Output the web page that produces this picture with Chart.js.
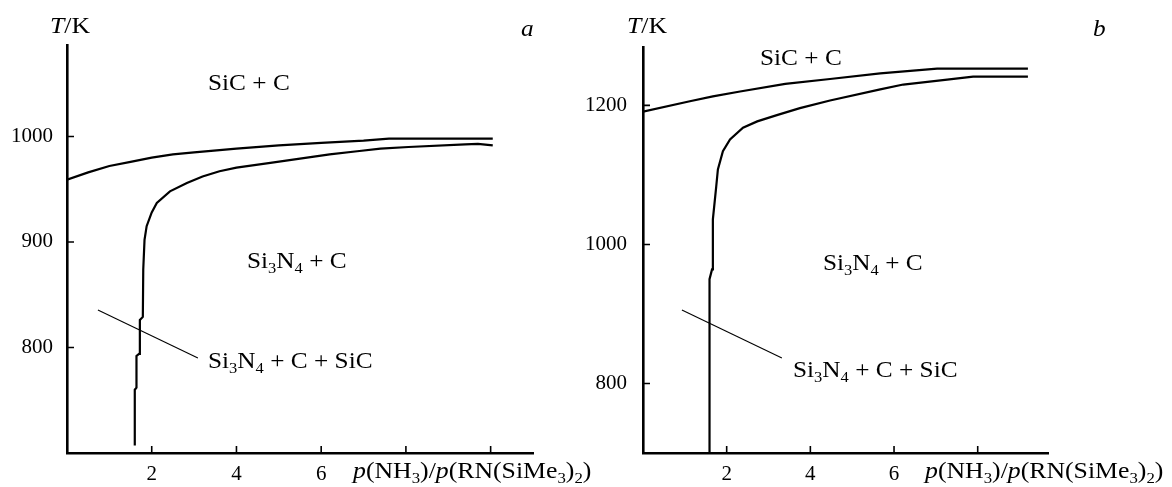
<!DOCTYPE html>
<html>
<head>
<meta charset="utf-8">
<script src="https://cdn.jsdelivr.net/npm/chart.js@4.4.1/dist/chart.umd.min.js"></script>
<style>
  html, body { margin: 0; padding: 0; background: #fff; }
  #wrap { position: relative; width: 1172px; height: 487px; }
  canvas { position: absolute; top: 0; }
  #chartA { left: 0; }
  #chartB { left: 580px; }
</style>
</head>
<body>
<div id="wrap">
  <canvas id="chartA" width="610" height="487"></canvas>
  <canvas id="chartB" width="592" height="487"></canvas>
</div>
<script>
// ---- panel a: boundary lines, x = p(NH3)/p(RN(SiMe3)2), T in K ----
const upperA_x = [0, 0.5, 1, 1.5, 2, 2.5, 3, 4, 5, 6, 7, 7.6, 10.05];
const upperA_T = [959, 966, 972, 976, 980, 983, 985, 988.5, 991.5, 994, 996, 998, 998];

const lowerA_x = [1.6, 1.6, 1.64, 1.64, 1.7, 1.72, 1.79, 1.8, 1.83, 1.88, 2.0, 2.12, 2.43, 2.83, 3.2, 3.6, 4.0, 4.8, 5.5, 6.2, 6.85, 7.4, 8.06, 9.4, 9.7, 10.05];
const lowerA_T = [707, 760, 762, 792, 794, 826, 829, 874, 902, 915, 928, 937, 948, 956, 962, 967, 970.5, 975, 979, 983, 986, 988.5, 990, 992.5, 993, 991.5];

const leaderA_x = [0.73, 3.09];
const leaderA_T = [835.5, 790];

const xTicksA = [2, 4, 6, 8, 10];
const yTicksA = [800, 900, 1000];

// ---- panel b ----
const upperB_x = [0, 1.12, 1.67, 2.32, 3.4, 4.47, 5.67, 7.03, 9.2];
const upperB_T = [1191, 1206, 1213, 1220, 1231, 1238, 1246, 1253, 1253];

const lowerB_x = [1.58, 1.58, 1.6, 1.65, 1.67, 1.75, 1.79, 1.91, 2.08, 2.39, 2.73, 3.2, 3.75, 4.47, 5.67, 6.22, 7.27, 7.89, 9.2];
const lowerB_T = [700, 906, 950, 964, 1036, 1083, 1108, 1134, 1151, 1168, 1177, 1186, 1196, 1207, 1223, 1230, 1237, 1241.5, 1241.5];

const leaderB_x = [0.93, 3.32];
const leaderB_T = [905.8, 836.7];

const xTicksB = [2, 4, 6, 8];
const yTicksB = [800, 1000, 1200];

const xLabelsShown = [2, 4, 6];

Chart.defaults.color = '#000';
Chart.defaults.font.family = '"Liberation Serif", "Times New Roman", serif';
Chart.defaults.font.size = 21;

const FONT = '"Liberation Serif", "Times New Roman", serif';

const SI3N4 = [['Si', ''], ['3', 's'], ['N', ''], ['4', 's']];
const titleRuns = [['p', 'i'], ['(NH', ''], ['3', 's'], [')/', ''], ['p', 'i'], ['(RN(SiMe', ''], ['3', 's'], [')', ''], ['2', 's'], [')', '']];

function drawRuns(ctx, x, y, runs, size, stretch) {
    ctx.save();
    ctx.translate(x, y);
    ctx.scale(stretch, 1);
    ctx.fillStyle = '#000';
    ctx.textBaseline = 'alphabetic';
    ctx.textAlign = 'left';
    let cx = 0;
    runs.forEach(([text, style]) => {
        const sub = style === 's';
        const fs = sub ? Math.round(size * 0.65) : size;
        ctx.font = (style === 'i' ? 'italic ' : '') + fs + 'px ' + FONT;
        ctx.fillText(text, cx, sub ? size * 0.22 : 0);
        cx += ctx.measureText(text).width;
    });
    ctx.restore();
}

const inwardTicks = {
    id: 'inwardTicks',
    afterDraw(chart) {
        const { ctx, chartArea, scales: { x, y } } = chart;
        ctx.save();
        ctx.strokeStyle = '#000';
        ctx.lineWidth = 1.6;
        ctx.beginPath();
        x.ticks.forEach(t => {
            const px = x.getPixelForValue(t.value);
            ctx.moveTo(px, chartArea.bottom);
            ctx.lineTo(px, chartArea.bottom - 7);
        });
        y.ticks.forEach(t => {
            const py = y.getPixelForValue(t.value);
            ctx.moveTo(chartArea.left, py);
            ctx.lineTo(chartArea.left + 7, py);
        });
        ctx.stroke();
        ctx.restore();
    }
};

const notes = {
    id: 'notes',
    afterDraw(chart, args, opts) {
        (opts.items || []).forEach(n => drawRuns(chart.ctx, n.x, n.y, n.runs, n.size, n.stretch));
    }
};

function series(xs, ts, width) {
    return {
        data: xs.map((x, i) => ({ x, y: ts[i] })),
        showLine: true,
        borderColor: '#000',
        borderWidth: width,
        pointRadius: 0,
        tension: 0,
        fill: false
    };
}

function makePanel(id, p) {
    return new Chart(document.getElementById(id), {
        type: 'scatter',
        data: {
            datasets: [
                series(p.upperX, p.upperT, 2.2),
                series(p.lowerX, p.lowerT, 2.2),
                series(p.leaderX, p.leaderT, 1.1)
            ]
        },
        options: {
            responsive: false,
            animation: false,
            layout: { padding: { top: p.top, right: p.right, left: 0, bottom: 0 } },
            plugins: {
                legend: { display: false },
                tooltip: { enabled: false },
                notes: { items: p.notes }
            },
            scales: {
                x: {
                    type: 'linear',
                    min: 0,
                    max: p.xMax,
                    afterBuildTicks(scale) { scale.ticks = p.xTicks.map(v => ({ value: v })); },
                    afterFit(scale) { scale.height = 487 - p.bottom; },
                    ticks: {
                        padding: 9,
                        autoSkip: false,
                        maxRotation: 0,
                        callback: v => xLabelsShown.includes(v) ? String(v) : ''
                    },
                    grid: { drawOnChartArea: false, drawTicks: false },
                    border: { width: 2.6, color: '#000' }
                },
                y: {
                    type: 'linear',
                    min: 700,
                    max: p.yMax,
                    afterBuildTicks(scale) { scale.ticks = p.yTicks.map(v => ({ value: v })); },
                    afterFit(scale) { scale.width = p.left; },
                    ticks: {
                        padding: p.yPad,
                        callback: v => String(v)
                    },
                    grid: { drawOnChartArea: false, drawTicks: false },
                    border: { width: 2.6, color: '#000' }
                }
            }
        },
        plugins: [inwardTicks, notes]
    });
}

makePanel('chartA', {
    upperX: upperA_x, upperT: upperA_T,
    lowerX: lowerA_x, lowerT: lowerA_T,
    leaderX: leaderA_x, leaderT: leaderA_T,
    xTicks: xTicksA, yTicks: yTicksA,
    xMax: 11, yMax: 1086.7,
    left: 67, top: 45, right: 77, bottom: 453, yPad: 14,
    notes: [
        { x: 50, y: 33, runs: [['T', 'i'], ['/K', '']], size: 23, stretch: 1.12 },
        { x: 521, y: 36, runs: [['a', 'i']], size: 23, stretch: 1.1 },
        { x: 208, y: 90, runs: [['SiC + C', '']], size: 23, stretch: 1.1 },
        { x: 247, y: 268, runs: [...SI3N4, [' + C', '']], size: 23, stretch: 1.1 },
        { x: 208, y: 368, runs: [...SI3N4, [' + C + SiC', '']], size: 23, stretch: 1.1 },
        { x: 353, y: 478, runs: titleRuns, size: 23, stretch: 1.12 }
    ]
});

makePanel('chartB', {
    upperX: upperB_x, upperT: upperB_T,
    lowerX: lowerB_x, lowerT: lowerB_T,
    leaderX: leaderB_x, leaderT: leaderB_T,
    xTicks: xTicksB, yTicks: yTicksB,
    xMax: 9.68, yMax: 1284,
    left: 63, top: 47, right: 124, bottom: 453, yPad: 16,
    notes: [
        { x: 47, y: 33, runs: [['T', 'i'], ['/K', '']], size: 23, stretch: 1.12 },
        { x: 513, y: 36, runs: [['b', 'i']], size: 23, stretch: 1.1 },
        { x: 180, y: 65, runs: [['SiC + C', '']], size: 23, stretch: 1.1 },
        { x: 243, y: 270, runs: [...SI3N4, [' + C', '']], size: 23, stretch: 1.1 },
        { x: 213, y: 377, runs: [...SI3N4, [' + C + SiC', '']], size: 23, stretch: 1.1 },
        { x: 345, y: 478, runs: titleRuns, size: 23, stretch: 1.12 }
    ]
});
</script>
</body>
</html>
